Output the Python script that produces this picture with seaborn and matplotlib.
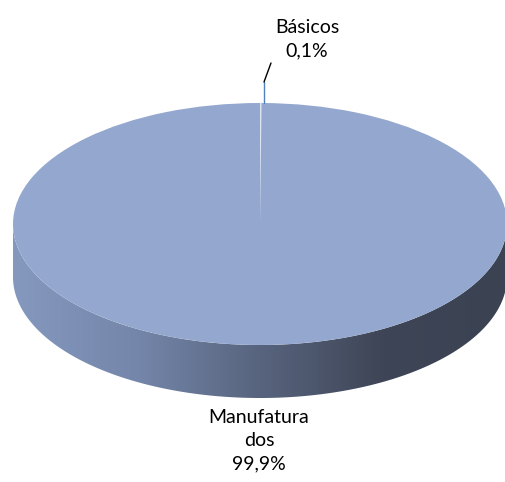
import numpy as np
import matplotlib
matplotlib.use("Agg")
import matplotlib.pyplot as plt
import seaborn as sns
from matplotlib.patches import Polygon

# data
categories = ["Básicos", "Manufatura\ndos"]
shares = [0.1, 99.9]
pct_labels = ["0,1%", "99,9%"]

# layout in pixels
W, H = 506, 482
CX, CY = 260, 224
RX, RY = 247, 121
DEPTH = 53


def to_data(px, py):
    # pixel (from top-left) -> data units where the pie has radius 1
    return (px - CX) / RX, (CY - py) / RY


sns.set_theme(style="white")
plt.rcParams['font.family'] = ['Lato', 'DejaVu Sans']

fig = plt.figure(figsize=(W / 100, H / 100), dpi=100)
ax = fig.add_axes([0, 0, 1, 1])

# side wall of the 3d pie, filled with a horizontal gradient
dd = DEPTH / RY
th = np.linspace(np.pi, 2 * np.pi, 300)
tx, ty = np.cos(th), np.sin(th)
side_xy = np.vstack([np.column_stack([tx, ty]),
                     np.column_stack([tx[::-1], ty[::-1] - dd])])
side = Polygon(side_xy, closed=True, facecolor='none', edgecolor='none')
ax.add_patch(side)
cmap = sns.blend_palette(["#8598BE", "#7486AA", "#58647E", "#3E4556", "#3B4252"], as_cmap=True)
grad = np.linspace(0, 1, 256).reshape(1, -1)
img = ax.imshow(grad, cmap=cmap, extent=(-1, 1, -1 - dd, 0.1), aspect='auto', zorder=1)
img.set_clip_path(side)

# top face
wedges, _ = ax.pie(shares, startangle=90, counterclock=False, radius=1, center=(0, 0),
                   colors=["#DCE4F3", "#94A8CF"], wedgeprops=dict(linewidth=0), frame=False)
for w in wedges:
    w.set_zorder(2)
wedges[0].set_edgecolor("#DCE4F3")
wedges[0].set_linewidth(0.8)

ax.set_xlim(to_data(0, 0)[0], to_data(W, 0)[0])
ax.set_ylim(to_data(0, H)[1], to_data(0, 0)[1])
ax.set_aspect('auto')
ax.axis('off')

# leader line for the small slice
x0, y0 = to_data(264, 103)
x1, y1 = to_data(264, 82)
x2, y2 = to_data(271, 63)
ax.plot([x0, x1], [y0, y1], color="#4F81BD", lw=1, zorder=3)
ax.plot([x1, x2], [y1, y2], color="black", lw=1, zorder=3)

# labels
lx, ly = to_data(307, 39)
ax.text(lx, ly, f"{categories[0]}\n{pct_labels[0]}", ha='center', va='center',
        fontsize=14, linespacing=1.45, color="black")
mx, my = to_data(259, 441)
ax.text(mx, my, f"{categories[1]}\n{pct_labels[1]}", ha='center', va='center',
        fontsize=14, linespacing=1.45, color="black")

plt.savefig("out.png", dpi=100)
